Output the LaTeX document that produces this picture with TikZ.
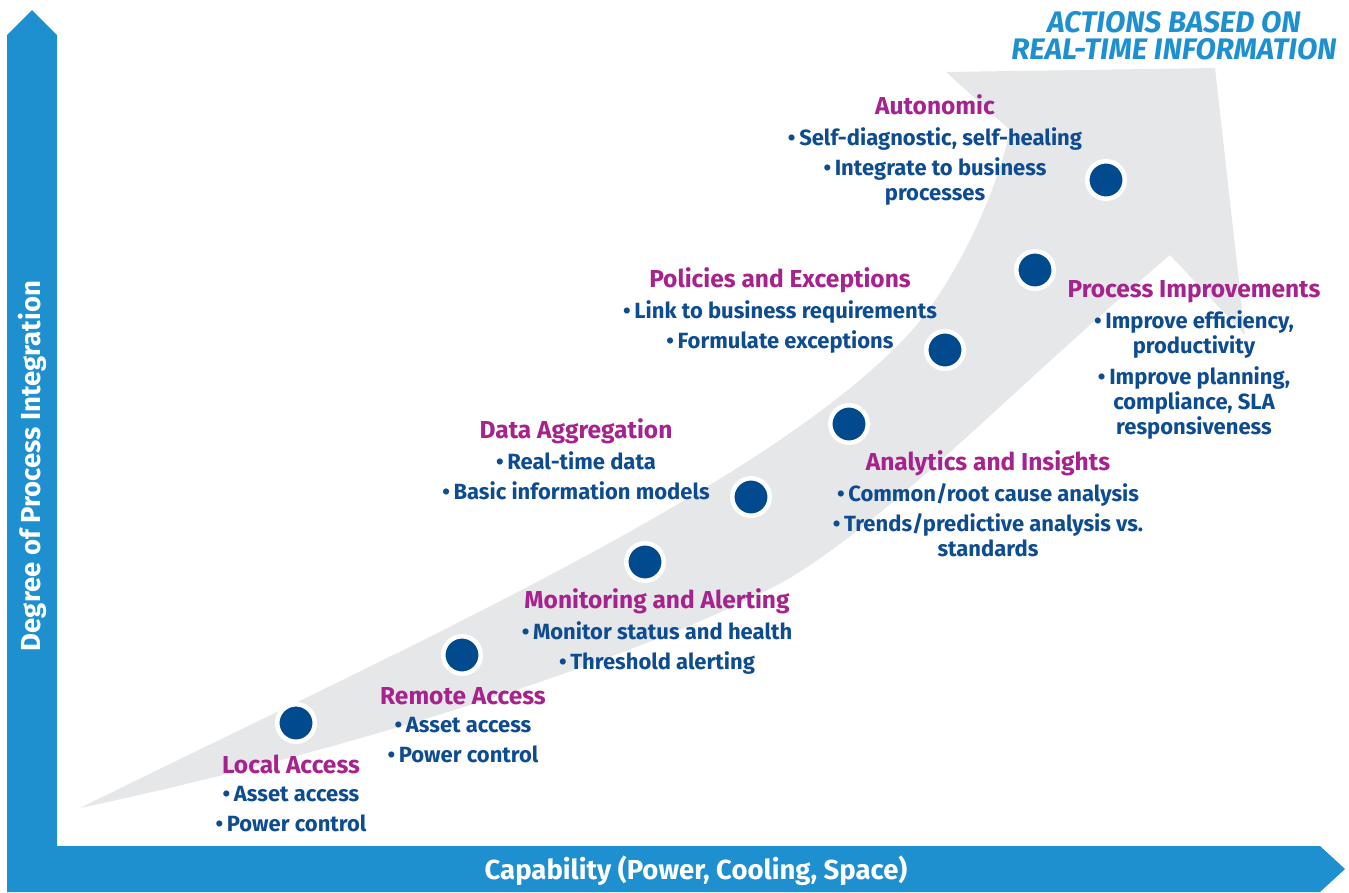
\documentclass[tikz,border=0pt]{standalone}
\usepackage{fontspec}
\setmainfont{Fira Sans}
\usetikzlibrary{positioning}
\definecolor{axisblue}{HTML}{1F90CF}
\definecolor{dotblue}{HTML}{004A8D}
\definecolor{textblue}{HTML}{0E4C92}
\definecolor{stagepink}{HTML}{A6228D}
\definecolor{arrowgray}{HTML}{E6E7E8}
\newcommand{\bul}{\textbullet\,}

\begin{document}
\begin{tikzpicture}[x=1pt,y=-1pt,
        dot/.style={circle,fill=dotblue,draw=white,line width=4.5pt,minimum size=37.5pt,inner sep=0pt},
        head/.style={text=stagepink,font=\bfseries\fontsize{24.5}{28}\selectfont,inner sep=0pt,text height=18pt,text depth=6pt},
        list/.style={text=textblue,font=\bfseries\fontsize{22}{25}\selectfont,align=center,inner sep=0pt},
        title/.style={text=axisblue,font=\bfseries\itshape\fontsize{29.7}{26}\selectfont,inner sep=0pt,text height=21pt,text depth=0pt}]

    \useasboundingbox (0,0) rectangle (1349,892);

    % axes
    \fill[axisblue] (7,892) -- (7,35) -- (32,10) -- (57,35) -- (57,846)
        -- (1320,846) -- (1345,869) -- (1320,892) -- cycle;
    \node[text=white,font=\bfseries\fontsize{27.5}{30}\selectfont,rotate=90] (yaxis) at (32,466) {Degree of Process Integration};
    \node[text=white,font=\bfseries\fontsize{27.5}{30}\selectfont] (xaxis) at (696,871) {Capability (Power, Cooling, Space)};

    % big grey arrow
    \fill[arrowgray] (80,808) .. controls (400,650) and (760,490) .. (905,338)
        .. controls (950,291) and (995,200) .. (1010,130)
        -- (946,72) -- (1215,68) -- (1245,335) -- (1170,255)
        .. controls (1000,400) and (900,510) .. (790,578)
        .. controls (680,640) and (400,740) .. (80,808) -- cycle;

    \node[title] (t1) at (1174,22) {ACTIONS BASED ON};
    \node[title] (t2) [below=6pt of t1] {REAL-TIME INFORMATION};

    % stages
    \node[dot] (1) at (296,723) {};
    \node[dot] (2) at (462,655) {};
    \node[dot] (3) at (645,562) {};
    \node[dot] (4) at (751,497) {};
    \node[dot] (5) at (849,424) {};
    \node[dot] (6) at (945,350) {};
    \node[dot] (7) at (1035,270) {};
    \node[dot] (8) at (1106,180) {};

    \node[head] (h1) at (291,767) {Local Access};
    \node[list] (l1) [below=7pt of h1] {\bul Asset access\\[5pt]\bul Power control};

    \node[head] (h2) at (463,698) {Remote Access};
    \node[list] (l2) [below=7pt of h2] {\bul Asset access\\[5pt]\bul Power control};

    \node[head] (h3) at (657,602) {Monitoring and Alerting};
    \node[list] (l3) [below=7pt of h3] {\bul Monitor status and health\\[5pt]\bul Threshold alerting};

    \node[head] (h4) at (576,432) {Data Aggregation};
    \node[list] (l4) [below=7pt of h4] {\bul Real-time data\\[5pt]\bul Basic information models};

    \node[head] (h5) at (988,464) {Analytics and Insights};
    \node[list] (l5) [below=7pt of h5] {\bul Common/root cause analysis\\[5pt]\bul Trends/predictive analysis vs.\\standards};

    \node[head] (h6) at (780,281) {Policies and Exceptions};
    \node[list] (l6) [below=7pt of h6] {\bul Link to business requirements\\[5pt]\bul Formulate exceptions};

    \node[head] (h7) at (1194,291) {Process Improvements};
    \node[list] (l7) [below=7pt of h7] {\bul Improve efficiency,\\productivity\\[6pt]\bul Improve planning,\\compliance, SLA\\responsiveness};

    \node[head] (h8) at (935,108) {Autonomic};
    \node[list] (l8) [below=7pt of h8] {\bul Self-diagnostic, self-healing\\[5pt]\bul Integrate to business\\processes};

\end{tikzpicture}
\end{document}
